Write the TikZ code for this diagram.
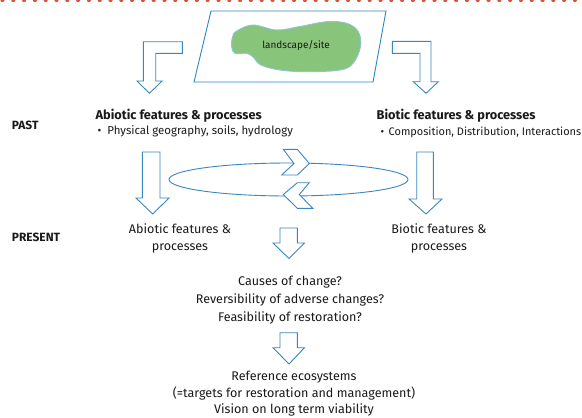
\documentclass[tikz,border=0pt]{standalone}
\usepackage{fontspec}
\setmainfont[Ligatures=NoCommon]{Fira Sans}
\definecolor{arrowblue}{HTML}{3A86BE}
\definecolor{frameblue}{HTML}{2A88C2}
\definecolor{blobgreen}{HTML}{88C47A}
\definecolor{blobedge}{HTML}{8CC4D8}
\definecolor{dotred}{HTML}{D0553A}
\definecolor{txt}{HTML}{1A1A1A}
\begin{document}
\begin{tikzpicture}[x=1bp,y=-1bp,
  blockarrow/.style={draw=arrowblue,line width=0.9bp,fill=white,line join=miter},
  lbl/.style={inner sep=0pt,text=txt,font=\fontsize{12.6}{17.5}\selectfont,align=center},
  hdr/.style={inner sep=0pt,text=txt,font=\bfseries\fontsize{12.8}{14}\selectfont,anchor=west},
  bul/.style={inner sep=0pt,text=txt,anchor=west},
  side/.style={inner sep=0pt,text=txt,font=\bfseries\fontsize{12}{13}\selectfont,anchor=west}]
\useasboundingbox (0,0) rectangle (582,417);
\fill[white] (0,0) rectangle (582,417);
% dotted red line at top
\foreach \i in {0,...,53} {\fill[dotred] (2.5+10.8*\i,0) circle (2.1);}
% landscape parallelogram
\draw[frameblue,line width=0.9bp] (211,11) -- (386,11) -- (373,82) -- (194,82) -- cycle;
\draw[blobedge,fill=blobgreen,line width=0.9bp] plot[smooth cycle,tension=0.6] coordinates {
 (236.7,31) (253,25) (276.7,30) (300,26.5) (326.7,21.7) (346.7,23.3) (358.3,31.7) (360.5,46.7)
 (353,63.3) (340,70) (306.7,71.7) (280,70) (261,65) (253,57) (246.7,53.3) (235,53.3) (231.7,46.7) (232.5,37)};
\node[lbl,font=\fontsize{10}{13}\selectfont] (site) at (296,46) {landscape/site};
% bent arrows
\draw[blockarrow] (182.3,41.7) -- (143.3,41.7) -- (143.3,81) -- (137,81) -- (149.5,93.3) -- (162,81) -- (155.7,81) -- (155.7,53.3) -- (182.3,53.3) -- cycle;
\draw[blockarrow] (392.3,41.3) -- (431,41.3) -- (431,81.7) -- (438.3,81.7) -- (426,93.3) -- (413.3,81.7) -- (420,81.7) -- (420,53.3) -- (392.3,53.3) -- cycle;
% headings
\node[side] (past) at (11.7,125) {PAST};
\node[side] (present) at (11.7,237) {PRESENT};
\node[hdr] (abh) at (95.5,115.5) {Abiotic features \& processes};
\node[bul,font=\fontsize{11.5}{13}\selectfont] (abb) at (97.5,131.5) {\textbullet\hspace{6pt}Physical geography, soils, hydrology};
\node[hdr] (bih) at (376.5,115.5) {Biotic features \& processes};
\node[bul,font=\fontsize{11}{13}\selectfont] (bib) at (380.5,132.5) {\textbullet\hspace{4.5pt}Composition, Distribution, Interactions};
% ellipse
\draw[arrowblue,line width=0.9bp] (288.5,179.5) ellipse [x radius=119.5,y radius=16.5];
% chevrons
\draw[blockarrow] (283.3,149.3) -- (297.3,149.3) -- (309.3,163.5) -- (297.3,175) -- (281.7,175) -- (294,163.5) -- cycle;
\draw[blockarrow] (309.3,182.7) -- (297.3,182.7) -- (283.3,194.5) -- (297.3,208.3) -- (312.7,208.3) -- (299.3,194.5) -- cycle;
% straight down arrows
\draw[blockarrow] (142.3,152) -- (160,152) -- (160,198) -- (169,198) -- (152.7,214) -- (136,198) -- (142.3,198) -- cycle;
\draw[blockarrow] (416.7,152) -- (433.3,152) -- (433.3,199) -- (442,199) -- (426,214) -- (409,199) -- (416.7,199) -- cycle;
% present texts
\node[lbl,font=\fontsize{12.6}{17}\selectfont] (abp) at (180,238.5) {Abiotic features \&\\processes};
\node[lbl,font=\fontsize{12.6}{17}\selectfont] (bip) at (439,238.5) {Biotic features \&\\processes};
% small arrows
\draw[blockarrow] (280,228) -- (297.3,228) -- (297.3,243) -- (304.5,243) -- (289,258.5) -- (273,243) -- (280,243) -- cycle;
\node[lbl,font=\fontsize{12.6}{18}\selectfont] (causes) at (290,300) {Causes of change?\\Reversibility of adverse changes?\\Feasibility of restoration?};
\draw[blockarrow] (280,332.7) -- (297.3,332.7) -- (297.3,347.7) -- (304.5,347.7) -- (289,364) -- (273,347.7) -- (280,347.7) -- cycle;
\node[lbl,font=\fontsize{12.6}{16.5}\selectfont,anchor=north] (ref) at (294,371) {Reference ecosystems\\(=targets for restoration and management)\\Vision on long term viability};
\end{tikzpicture}
\end{document}
